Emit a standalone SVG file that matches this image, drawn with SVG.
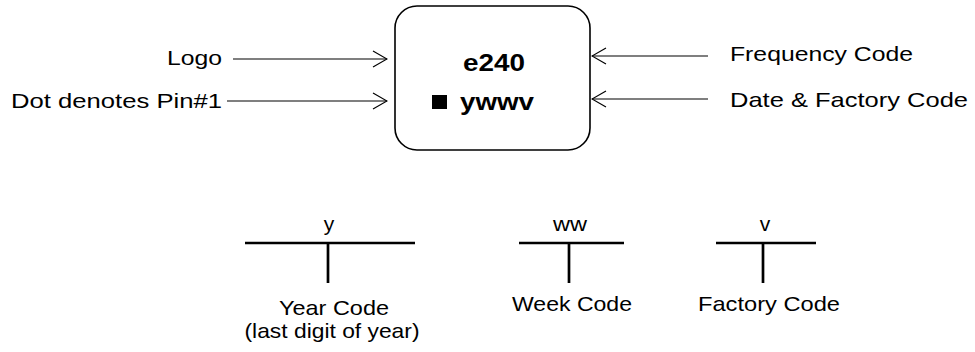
<svg xmlns="http://www.w3.org/2000/svg" width="975" height="352" viewBox="0 0 975 352">
<defs>
<marker id="arr" viewBox="0 0 16 18" refX="15" refY="9" markerWidth="16" markerHeight="18" markerUnits="userSpaceOnUse" orient="auto">
<path d="M1,1 L15,9 L1,17" fill="none" stroke="#000" stroke-width="1.2"/>
</marker>
</defs>
<style>
text{font-family:"Liberation Sans",Arial,sans-serif;fill:#000}
.lbl{font-size:21px}
.bold{font-size:24px;font-weight:bold}
.conn{stroke:#000;stroke-width:1.2;fill:none;marker-end:url(#arr)}
.bar{stroke:#000;stroke-width:2.7;fill:none}
</style>
<rect width="975" height="352" fill="#fff"/>
<g id="chip">
<rect x="395" y="6" width="195" height="144" rx="22" ry="22" fill="#fff" stroke="#000" stroke-width="1.6"/>
<text class="bold" x="463" y="71" textLength="62" lengthAdjust="spacingAndGlyphs">e240</text>
<rect x="432" y="95" width="15" height="14" fill="#000"/>
<text class="bold" x="460" y="110" textLength="74" lengthAdjust="spacingAndGlyphs">ywwv</text>
</g>
<g id="label-logo">
<text class="lbl" x="222" y="65" text-anchor="end" textLength="55" lengthAdjust="spacingAndGlyphs">Logo</text>
</g>
<g id="label-pin1">
<text class="lbl" x="222" y="108" text-anchor="end" textLength="211" lengthAdjust="spacingAndGlyphs">Dot denotes Pin#1</text>
</g>
<g id="label-freq">
<text class="lbl" x="730" y="61" textLength="183" lengthAdjust="spacingAndGlyphs">Frequency Code</text>
</g>
<g id="label-date">
<text class="lbl" x="730" y="107" textLength="238" lengthAdjust="spacingAndGlyphs">Date &amp; Factory Code</text>
</g>
<g id="connectors">
<line class="conn" x1="233" y1="59" x2="387" y2="59"/>
<line class="conn" x1="227" y1="101" x2="387" y2="101"/>
<line class="conn" x1="708" y1="56" x2="592" y2="56"/>
<line class="conn" x1="708" y1="99" x2="592" y2="99"/>
</g>
<g id="year">
<text class="lbl" x="329" y="231" text-anchor="middle">y</text>
<line class="bar" x1="245" y1="243" x2="415" y2="243"/>
<line class="bar" x1="328" y1="243" x2="328" y2="283"/>
<text class="lbl" x="334" y="315" text-anchor="middle" textLength="110" lengthAdjust="spacingAndGlyphs">Year Code</text>
<text class="lbl" x="332" y="338" text-anchor="middle" textLength="175" lengthAdjust="spacingAndGlyphs">(last digit of year)</text>
</g>
<g id="week">
<text class="lbl" x="570" y="231" text-anchor="middle" textLength="34" lengthAdjust="spacingAndGlyphs">ww</text>
<line class="bar" x1="519" y1="243" x2="624" y2="243"/>
<line class="bar" x1="569" y1="243" x2="569" y2="283"/>
<text class="lbl" x="572" y="311" text-anchor="middle" textLength="120" lengthAdjust="spacingAndGlyphs">Week Code</text>
</g>
<g id="factory">
<text class="lbl" x="765" y="231" text-anchor="middle">v</text>
<line class="bar" x1="716" y1="243" x2="816" y2="243"/>
<line class="bar" x1="763" y1="243" x2="763" y2="283"/>
<text class="lbl" x="769" y="311" text-anchor="middle" textLength="142" lengthAdjust="spacingAndGlyphs">Factory Code</text>
</g>
</svg>
